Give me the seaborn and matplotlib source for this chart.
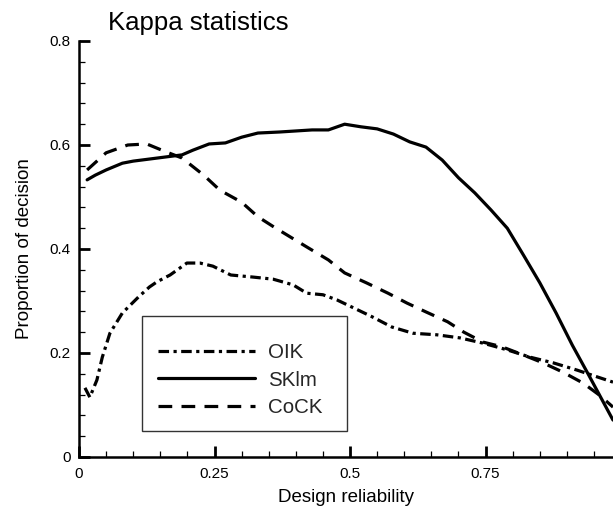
import numpy as np
import pandas as pd
import matplotlib
matplotlib.use("Agg")
import matplotlib.pyplot as plt
import matplotlib.patches as mpatches
import seaborn as sns
from matplotlib.ticker import MultipleLocator, FixedLocator

# ---- data ----
oik_x = [0.011, 0.020, 0.033, 0.043, 0.057, 0.080, 0.110, 0.130, 0.144, 0.168, 0.199,
         0.223, 0.247, 0.280, 0.321, 0.358, 0.395, 0.420, 0.450, 0.476, 0.500, 0.540,
         0.577, 0.616, 0.660, 0.703, 0.745, 0.790, 0.832, 0.875, 0.919, 0.956, 0.985]
oik_y = [0.133, 0.115, 0.148, 0.192, 0.238, 0.277, 0.308, 0.327, 0.337, 0.350, 0.373,
         0.373, 0.367, 0.350, 0.346, 0.342, 0.331, 0.315, 0.312, 0.302, 0.290, 0.270,
         0.250, 0.238, 0.235, 0.229, 0.219, 0.206, 0.192, 0.181, 0.167, 0.154, 0.144]

sklm_x = [0.015, 0.03, 0.05, 0.08, 0.10, 0.13, 0.16, 0.19, 0.21, 0.24, 0.27, 0.30, 0.33,
          0.37, 0.40, 0.43, 0.46, 0.49, 0.52, 0.55, 0.58, 0.61, 0.64, 0.67, 0.70, 0.73,
          0.76, 0.79, 0.82, 0.85, 0.88, 0.91, 0.94, 0.97, 0.985]
sklm_y = [0.533, 0.542, 0.552, 0.565, 0.569, 0.573, 0.577, 0.581, 0.590, 0.602, 0.604,
          0.615, 0.623, 0.625, 0.627, 0.629, 0.629, 0.640, 0.635, 0.631, 0.621, 0.606,
          0.596, 0.571, 0.537, 0.508, 0.475, 0.440, 0.388, 0.335, 0.277, 0.215, 0.158,
          0.100, 0.071]

cock_x = [0.015, 0.05, 0.09, 0.125, 0.16, 0.19, 0.23, 0.26, 0.30, 0.33, 0.36, 0.39, 0.42,
          0.46, 0.49, 0.53, 0.57, 0.605, 0.64, 0.68, 0.71, 0.745, 0.78, 0.82, 0.856,
          0.893, 0.93, 0.96, 0.985]
cock_y = [0.552, 0.585, 0.600, 0.602, 0.587, 0.575, 0.542, 0.513, 0.490, 0.462, 0.442,
          0.423, 0.404, 0.379, 0.354, 0.335, 0.315, 0.296, 0.279, 0.260, 0.240, 0.221,
          0.212, 0.196, 0.181, 0.163, 0.142, 0.119, 0.096]

series_names = ["OIK", "SKlm", "CoCK"]
title_text = "Kappa statistics"
x_label = "Design reliability"
y_label = "Proportion of decision"
x_major = [0, 0.25, 0.5, 0.75]
x_major_labels = ["0", "0.25", "0.5", "0.75"]
y_major = [0, 0.2, 0.4, 0.6, 0.8]
y_major_labels = ["0", "0.2", "0.4", "0.6", "0.8"]

# ---- plotting ----
sns.set_theme(style="white")
plt.rcParams["font.family"] = ["Liberation Sans", "DejaVu Sans"]

fig = plt.figure(figsize=(6.13, 5.08), dpi=100)
ax = fig.add_axes([79 / 613, 51 / 508, 534 / 613, 416 / 508])

lw = 2.3
styles = {
    "OIK": (0, (3.3, 1.4, 1.0, 1.4)),
    "SKlm": "-",
    "CoCK": (0, (4.3, 2.9)),
}
data = {"OIK": (oik_x, oik_y), "SKlm": (sklm_x, sklm_y), "CoCK": (cock_x, cock_y)}
for name in series_names:
    xs, ys = data[name]
    df = pd.DataFrame({"x": xs, "y": ys})
    sns.lineplot(data=df, x="x", y="y", ax=ax, color="black", linewidth=lw,
                 linestyle=styles[name], label=name, sort=False, estimator=None,
                 solid_joinstyle="round", dash_capstyle="butt")

ax.set_xlim(0, 0.985)
ax.set_ylim(0, 0.8)
ax.xaxis.set_major_locator(FixedLocator(x_major))
ax.set_xticklabels(x_major_labels)
ax.yaxis.set_major_locator(FixedLocator(y_major))
ax.set_yticklabels(y_major_labels)
ax.xaxis.set_minor_locator(MultipleLocator(0.05))
ax.yaxis.set_minor_locator(MultipleLocator(0.04))

for s in ["top", "right"]:
    ax.spines[s].set_visible(False)
for s in ["left", "bottom"]:
    ax.spines[s].set_linewidth(1.8)
    ax.spines[s].set_color("black")

ax.tick_params(which="major", direction="in", length=8, width=2.0, color="black",
               labelsize=11, labelcolor="black")
ax.tick_params(axis="y", which="major", pad=6)
ax.tick_params(axis="x", which="major", pad=7)
ax.tick_params(which="minor", direction="in", length=4.5, width=0.9, color="black")
ax.tick_params(which="both", left=True, bottom=True)

ax.set_xlabel(x_label, fontsize=13.5, color="black", labelpad=6)
ax.set_ylabel(y_label, fontsize=13.5, color="black", labelpad=12)

fig.text(108 / 613, 1 - 30 / 508, title_text, fontsize=18.5, color="black",
         ha="left", va="baseline")

# legend frame (box) drawn separately
frame = mpatches.Rectangle(((142 - 79) / 534, (457 - 431) / 416), (347 - 142) / 534,
                           (431 - 316) / 416, transform=ax.transAxes, facecolor="white",
                           edgecolor="#333333", linewidth=1.0, zorder=4)
ax.add_patch(frame)

leg = ax.legend(loc="center left", bbox_to_anchor=((158 - 79) / 534, (457 - 380) / 416),
                fontsize=14.8, frameon=False, handlelength=4.7, handletextpad=0.63,
                labelspacing=0.42, borderpad=0.0, borderaxespad=0.0)
leg.set_zorder(5)

ax.set_facecolor("white")
fig.patch.set_facecolor("white")
fig.savefig("out.png", dpi=100)
